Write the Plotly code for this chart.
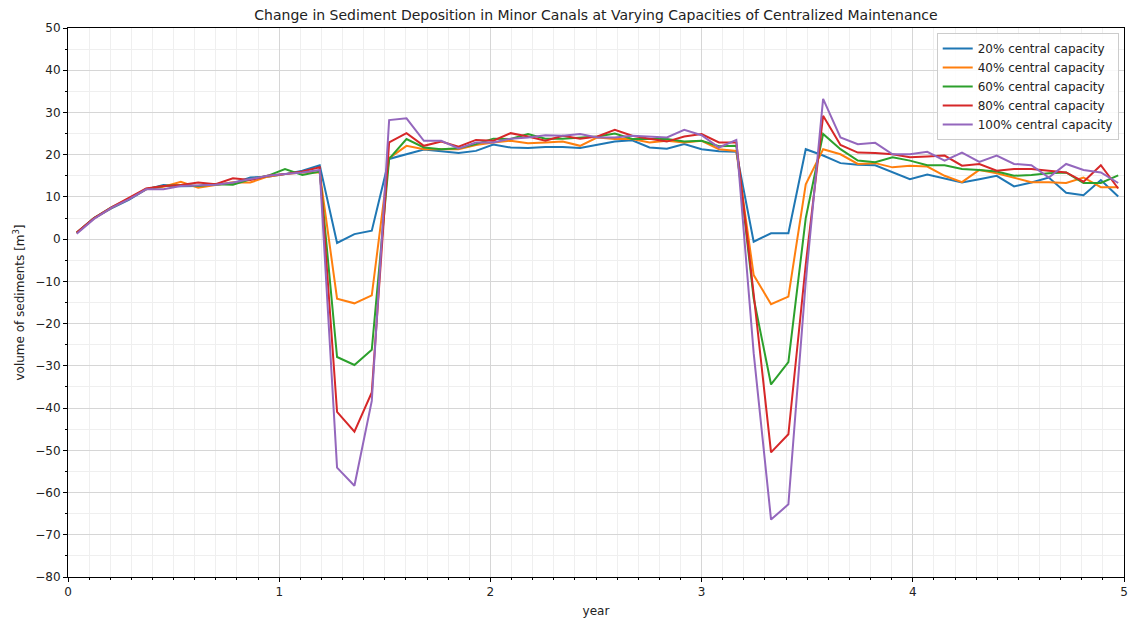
import plotly.graph_objects as go

# monthly sample days (mid-month, 30-day months) over 5 years
days = list(range(15, 1816, 30))
years = [d / 365 for d in days]

series_names = ["20% central capacity", "40% central capacity", "60% central capacity",
                "80% central capacity", "100% central capacity"]

cap20 = [1.5, 5.0, 7.3, 9.3, 11.8, 12.8, 12.5, 12.6, 13.0, 13.2, 14.6, 14.8, 15.4, 16.2, 17.5,
         -0.9, 1.2, 2.0, 19.0, 20.1, 21.2, 20.8, 20.4, 20.9, 22.4, 21.7, 21.6, 21.8, 21.8, 21.6,
         22.4, 23.1, 23.4, 21.7, 21.4, 22.5, 21.3, 20.8, 20.7, -0.6, 1.4, 1.4, 21.3, 19.8, 18.0,
         17.6, 17.5, 15.8, 14.2, 15.3, 14.4, 13.4, 14.2, 15.0, 12.5, 13.4, 14.6, 11.0, 10.4, 14.0, 10.1]

cap40 = [1.5, 4.9, 7.4, 9.6, 11.8, 12.4, 13.6, 12.2, 12.8, 13.5, 13.4, 14.8, 15.4, 15.8, 15.8,
         -14.1, -15.2, -13.3, 19.2, 22.1, 21.3, 21.3, 21.3, 22.3, 22.9, 23.3, 22.7, 22.9, 23.1, 22.1,
         24.1, 23.7, 23.7, 22.9, 23.3, 22.9, 23.3, 21.3, 20.9, -8.5, -15.4, -13.6, 13.0, 21.3, 20.1,
         17.8, 18.0, 17.0, 17.4, 17.2, 15.0, 13.5, 16.4, 15.6, 14.6, 13.5, 13.5, 13.3, 14.6, 12.3, 12.3]

cap60 = [1.5, 5.0, 7.5, 9.5, 11.9, 12.6, 12.8, 12.6, 13.0, 12.9, 14.2, 15.0, 16.6, 15.2, 16.0,
         -27.9, -29.8, -26.2, 19.0, 23.7, 21.7, 21.3, 21.5, 22.5, 23.8, 23.7, 24.9, 23.8, 23.8, 24.1,
         24.3, 25.0, 23.7, 23.7, 23.7, 23.1, 23.3, 22.0, 22.1, -14.0, -34.4, -29.1, 5.0, 24.9, 21.3,
         18.6, 18.2, 19.4, 18.6, 17.5, 17.5, 16.6, 16.4, 16.0, 15.0, 15.2, 15.6, 15.8, 13.3, 13.3, 15.1]

cap80 = [1.6, 5.0, 7.5, 9.8, 12.0, 12.6, 12.8, 13.4, 13.0, 14.4, 14.0, 15.0, 15.4, 16.0, 17.0,
         -40.9, -45.6, -36.3, 22.9, 25.1, 22.1, 23.1, 21.9, 23.5, 23.3, 25.1, 24.3, 23.3, 24.5, 23.8,
         24.3, 25.9, 24.5, 23.8, 23.1, 24.3, 24.9, 22.9, 22.9, -13.0, -50.5, -46.2, -6.0, 29.2, 22.3,
         20.5, 20.4, 20.1, 19.4, 19.6, 19.8, 17.4, 17.8, 16.2, 16.6, 16.6, 16.2, 15.8, 13.6, 17.5, 12.0]

cap100 = [1.3, 4.8, 7.4, 9.4, 11.8, 11.8, 12.6, 12.8, 12.9, 13.4, 14.2, 15.0, 15.4, 15.8, 16.4,
          -54.1, -58.4, -38.3, 28.2, 28.6, 23.3, 23.3, 21.5, 22.9, 22.9, 23.8, 24.1, 24.6, 24.5, 24.9,
          24.1, 24.1, 24.5, 24.3, 24.1, 25.9, 24.6, 21.7, 23.5, -27.0, -66.4, -62.8, -10.0, 33.2, 24.1,
          22.5, 22.8, 20.1, 20.1, 20.7, 18.6, 20.5, 18.3, 19.8, 17.8, 17.5, 14.6, 17.8, 16.4, 15.8, 13.3]

all_series = [cap20, cap40, cap60, cap80, cap100]
colors = ["#1f77b4", "#ff7f0e", "#2ca02c", "#d62728", "#9467bd"]

fig = go.Figure()
for name, vals, col in zip(series_names, all_series, colors):
    fig.add_trace(go.Scatter(x=years, y=vals, mode="lines", name=name,
                             line=dict(color=col, width=2)))

font_family = "DejaVu Sans"
axis_common = dict(
    showline=True, linecolor="black", linewidth=1, mirror=True,
    ticks="outside", ticklen=4, tickcolor="black", tickwidth=1,
    showgrid=True, gridcolor="#d6d6d6", gridwidth=1,
    zeroline=False, automargin=False,
    tickfont=dict(family=font_family, size=12, color="#222222"),
)

fig.update_layout(
    width=1131, height=618,
    margin=dict(l=68, r=7, t=28, b=41),
    paper_bgcolor="white", plot_bgcolor="white",
    font=dict(family=font_family, size=12, color="#222222"),
    title=dict(text="Change in Sediment Deposition in Minor Canals at Varying Capacities of Centralized Maintenance",
               x=0.5, xref="paper", xanchor="center", y=1 - 15 / 618, yanchor="middle",
               font=dict(family=font_family, size=14, color="#222222")),
    legend=dict(x=0.995, xanchor="right", y=0.991, yanchor="top",
                bgcolor="rgba(255,255,255,0.85)", bordercolor="#cccccc", borderwidth=1,
                font=dict(family=font_family, size=12, color="#222222"),
                tracegroupgap=0),
    showlegend=True,
)

fig.update_xaxes(
    range=[0, 5], dtick=1, tick0=0,
    title=dict(text="year", font=dict(family=font_family, size=12, color="#222222"), standoff=8),
    minor=dict(dtick=0.1, ticks="outside", ticklen=2, tickcolor="black",
               showgrid=True, gridcolor="#efefef", gridwidth=1),
    **axis_common,
)
fig.update_yaxes(
    range=[-80, 50], dtick=10, tick0=0,
    title=dict(text="volume of sediments [m<sup>3</sup>]",
               font=dict(family=font_family, size=12, color="#222222"), standoff=8),
    minor=dict(dtick=5, ticks="outside", ticklen=2, tickcolor="black",
               showgrid=True, gridcolor="#efefef", gridwidth=1),
    **axis_common,
)

fig.write_html("out.html")
